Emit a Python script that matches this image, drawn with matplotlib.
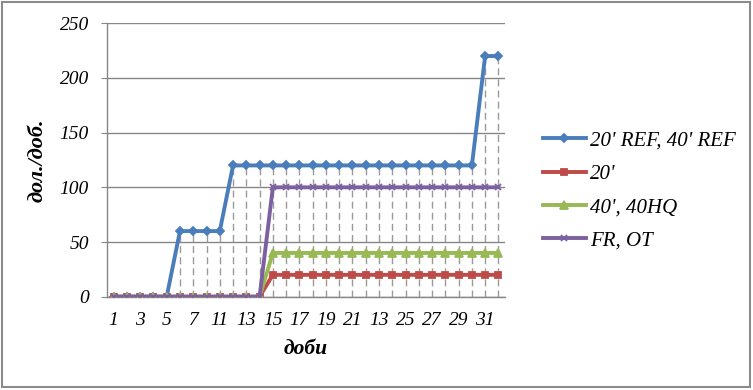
import numpy as np
import matplotlib
matplotlib.use("Agg")
import matplotlib.pyplot as plt
from matplotlib.patches import Rectangle

plt.rcParams['font.family'] = ['Liberation Serif', 'DejaVu Serif']

# values per day (30 categories); labels as printed on the original axis
ref_20_40 = [0, 0, 0, 0, 0, 60, 60, 60, 60, 120, 120, 120, 120, 120, 120,
             120, 120, 120, 120, 120, 120, 120, 120, 120, 120, 120, 120, 120, 220, 220]
c20 = [0] * 12 + [20] * 18
c40_hq = [0] * 12 + [40] * 18
fr_ot = [0] * 12 + [100] * 18
tick_labels = ['1', '3', '5', '7', '11', '13', '15', '17', '19', '21', '13', '25', '27', '29', '31']

series = [
    (ref_20_40, "20' REF, 40' REF", '#4A7EBB', 'D', 4),
    (c20, "20'", '#BE4B48', 's', 5),
    (c40_hq, "40', 40HQ", '#98B954', '^', 5.5),
    (fr_ot, "FR, OT", '#7D60A0', 'x', 5),
]

fig = plt.figure(figsize=(7.53, 3.90), dpi=100)
ax = fig.add_axes([0.1421, 0.2392, 0.5286, 0.7013])

x = np.arange(len(ref_20_40))

# drop lines from the highest point to the axis
tops = np.max([s[0] for s in series], axis=0)
ax.vlines(x, 0, tops, colors='#9a9a9a', linestyles=(0, (5, 3)), linewidth=1.0, zorder=1)

for vals, label, color, marker, ms in series:
    ax.plot(x, vals, color=color, linewidth=2.8, marker=marker, markersize=ms,
            markeredgewidth=1.3, label=label, zorder=3)

ax.set_xlim(-0.5, len(x) - 0.5)
ax.set_ylim(0, 250)
ax.set_yticks(np.arange(0, 251, 50))
ax.set_xticks(x[::2][:len(tick_labels)])
ax.set_xticklabels(tick_labels)

ax.grid(axis='y', color='#868686', linewidth=1.0, zorder=0)
ax.set_axisbelow(True)
for side in ('top', 'right'):
    ax.spines[side].set_visible(False)
for side in ('left', 'bottom'):
    ax.spines[side].set_color('#868686')
    ax.spines[side].set_linewidth(1.0)

ax.tick_params(axis='y', length=4, color='#868686', pad=9, labelsize=14)
ax.tick_params(axis='x', length=0, pad=11, labelsize=14)
for t in ax.get_xticklabels() + ax.get_yticklabels():
    t.set_fontstyle('italic')

ax.set_xlabel('доби', fontsize=15.5, fontweight='bold', fontstyle='italic')
ax.xaxis.set_label_coords(0.5, -0.155)
ax.set_ylabel('дол./доб.', fontsize=16, fontweight='bold', fontstyle='italic')
ax.yaxis.set_label_coords(-0.15, 0.5)

leg = fig.legend(loc='upper left', bbox_to_anchor=(0.721, 0.664), frameon=False,
                 handlelength=2.07, handletextpad=0.2, labelspacing=0.66,
                 borderpad=0, borderaxespad=0,
                 prop={'size': 15, 'style': 'italic'})

fig.patches.append(Rectangle((0.003, 0.008), 0.993, 0.988, transform=fig.transFigure,
                             fill=False, edgecolor='#8c8c8c', linewidth=1.5))

fig.savefig('out.png', dpi=100)
